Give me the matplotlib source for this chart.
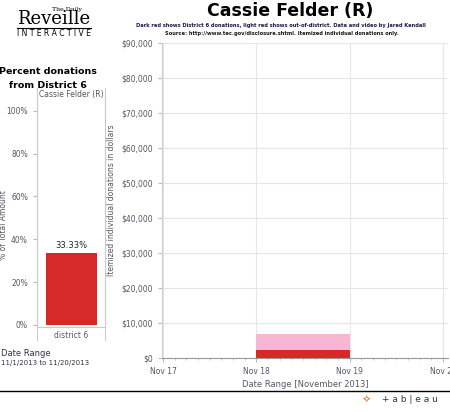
import numpy as np
import matplotlib
matplotlib.use("Agg")
import matplotlib.pyplot as plt
import matplotlib.dates as mdates
import matplotlib.ticker as mticker
from matplotlib.lines import Line2D

# data
candidate = "Cassie Felder (R)"
day_start = ["2013-11-18"]
district_amt = [2300]        # dark red, District 6
out_amt = [4600]             # light red, out of district
pct_category = ["district 6"]
pct_values = [0.3333]

dark_red = "#d62a2a"
light_red = "#f7b6d2"
tick_col = "#555566"
grid_col = "#e6e6e6"

fig = plt.figure(figsize=(4.5, 4.12), dpi=100)

# ---- main stacked chart
ax = fig.add_axes([162/450, 1-358/412, 286/450, 315/412])
x0 = mdates.datestr2num(day_start)
ax.bar(x0, district_amt, width=1.0, align="edge", color=dark_red, zorder=3)
ax.bar(x0, out_amt, bottom=district_amt, width=1.0, align="edge", color=light_red, zorder=3)
ax.set_xlim(mdates.datestr2num("2013-11-16 23:45"), mdates.datestr2num("2013-11-20 01:15"))
ax.set_ylim(0, 90000)
ax.yaxis.set_major_locator(mticker.MultipleLocator(10000))
ax.yaxis.set_major_formatter(mticker.FuncFormatter(lambda v, p: "${:,.0f}".format(v)))
ax.xaxis.set_major_locator(mdates.DayLocator())
ax.xaxis.set_major_formatter(mdates.DateFormatter("Nov %d"))
ax.xaxis.set_minor_locator(mdates.HourLocator(byhour=range(0, 24, 3)))
ax.grid(True, which="major", color=grid_col, linewidth=0.8, zorder=0)
for s in ["top", "right"]:
    ax.spines[s].set_visible(False)
ax.spines["left"].set_color("#cccccc")
ax.spines["bottom"].set_color("#999999")
ax.tick_params(axis="both", which="major", labelsize=5.5, colors="#bbbbbb", labelcolor=tick_col, length=3)
ax.tick_params(axis="x", which="minor", length=1.5, colors="#bbbbbb")
ax.set_xlabel("Date Range [November 2013]", fontsize=6, color=tick_col, labelpad=3)
ax.set_ylabel("Itemized individual donations in dollars", fontsize=5.5, color=tick_col, labelpad=4)

# ---- left percentage panel
ax2 = fig.add_axes([37/450, 1-327/412, 68/450, 227/412])
ax2.bar(pct_category, pct_values, width=0.75, color=dark_red, zorder=3)
for c, v in zip(pct_category, pct_values):
    ax2.text(c, v + 0.015, "{:.2f}%".format(v * 100), ha="center", va="bottom", fontsize=6, color="#222222")
ax2.set_xlim(-0.5, 0.5)
ax2.set_ylim(-0.01, 1.05)
ax2.yaxis.set_major_locator(mticker.MultipleLocator(0.2))
ax2.yaxis.set_major_formatter(mticker.FuncFormatter(lambda v, p: "{:.0f}%".format(v * 100)))
ax2.tick_params(axis="y", labelsize=5.5, colors="#bbbbbb", labelcolor=tick_col, length=3)
ax2.tick_params(axis="x", labelsize=5.5, labelcolor=tick_col, length=0, pad=3)
ax2.spines["top"].set_visible(False)
for s in ["left", "right", "bottom"]:
    ax2.spines[s].set_color("#cccccc")
ax2.set_ylabel("% of Total Amount", fontsize=5.5, color=tick_col)
ax2.yaxis.set_label_coords(-0.42, 0.45)

# box lines round the left panel
for xp in [37/450, 105/450]:
    fig.add_artist(Line2D([xp, xp], [1-340/412, 1-88/412], color="#cccccc", lw=0.8))
fig.text(71/450, 1-95/412, candidate, ha="center", va="center", fontsize=5.5, color=tick_col)

# ---- titles and notes
fig.text(290/450, 1-11/412, candidate, ha="center", va="center", fontsize=12.5, fontweight="bold")
fig.text(281/450, 1-25/412,
         "Dark red shows District 6 donations, light red shows out-of-district. Data and video by Jared Kendall",
         ha="center", va="center", fontsize=3.7, fontweight="bold", color="#1a1a4a")
fig.text(282/450, 1-33/412,
         "Source: http://www.tec.gov/disclosure.shtml. Itemized individual donations only.",
         ha="center", va="center", fontsize=3.7, fontweight="bold", color="#1a1a1a")

fig.text(52/450, 1-9/412, "The Daily", ha="left", va="center", fontsize=4.5, family="DejaVu Serif")
fig.text(54/450, 1-19/412, "Reveille", ha="center", va="center", fontsize=13, family="DejaVu Serif")
fig.text(54/450, 1-33/412, "I N T E R A C T I V E", ha="center", va="center", fontsize=5.5)
fig.add_artist(Line2D([17/450, 91/450], [1-28/412, 1-28/412], color="black", lw=0.8))

fig.text(48/450, 1-72/412, "Percent donations", ha="center", va="center", fontsize=6.8, fontweight="bold")
fig.text(48/450, 1-85/412, "from District 6", ha="center", va="center", fontsize=6.8, fontweight="bold")

fig.text(1/450, 1-353/412, "Date Range", ha="left", va="center", fontsize=6, color="#333344")
fig.text(1/450, 1-363/412, "11/1/2013 to 11/20/2013", ha="left", va="center", fontsize=5, color="#333344")

fig.add_artist(Line2D([0, 1], [1-391/412, 1-391/412], color="black", lw=1))
fig.text(366/450, 1-400/412, "\u2727", ha="center", va="center", fontsize=8, color="#e8762b")
fig.text(410/450, 1-400/412, "+ a b | e a u", ha="center", va="center", fontsize=6.5, color="#1f3b5a")

fig.savefig("out.png", dpi=100)
